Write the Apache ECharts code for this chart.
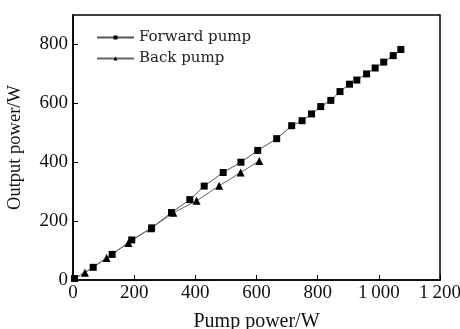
<!DOCTYPE html>
<html>
<head>
<meta charset="utf-8">
<script src="https://cdn.jsdelivr.net/npm/echarts@6/dist/echarts.min.js"></script>
<style>
  html, body { margin: 0; padding: 0; background: #fff; }
  #chart { width: 460px; height: 329px; }
</style>
</head>
<body>
<div id="chart"></div>
<script>
const forwardPump = [5, 66, 128, 192, 257, 322, 382, 429, 491, 549, 604, 666, 715, 749, 780, 810, 843, 873, 904, 928, 960, 988, 1016, 1047, 1072];
const forwardOut = [5, 43, 87, 136, 177, 229, 273, 319, 365, 400, 440, 480, 524, 541, 564, 589, 610, 640, 665, 679, 700, 720, 740, 762, 783];
const backPump = [39, 110, 181, 255, 328, 404, 478, 548, 609];
const backOut = [25, 75, 126, 176, 228, 269, 320, 365, 404];

const serif = 'Liberation Serif';
const chart = echarts.init(document.getElementById('chart'));

const toPairs = (xs, ys) => xs.map((x, i) => [x, ys[i]]);

const option = {
  animation: false,
  grid: {
    left: 73, right: 20, top: 15, bottom: 49,
    outerBoundsMode: 'none',
    containLabel: false,
    show: true, borderColor: '#000', borderWidth: 1.5
  },
  legend: {
    orient: 'vertical',
    left: 96, top: 30,
    padding: 0,
    itemWidth: 37, itemHeight: 5, itemGap: 6,
    textStyle: { fontFamily: 'DejaVu Serif', fontSize: 15, color: '#222' },
    data: ['Forward pump', 'Back pump']
  },
  xAxis: {
    type: 'value',
    min: 0, max: 1200, interval: 200,
    name: 'Pump power/W',
    nameLocation: 'middle',
    nameGap: 32,
    nameTextStyle: { fontFamily: serif, fontSize: 20, color: '#111' },
    axisLine: { lineStyle: { color: '#000', width: 1.5 } },
    axisTick: { inside: true, length: 5, lineStyle: { color: '#000' } },
    axisLabel: {
      fontFamily: serif, fontSize: 19, color: '#111', margin: 4,
      formatter: v => v >= 1000 ? String(v).replace(/^(\d)/, '$1\u2009') : String(v)
    },
    splitLine: { show: false }
  },
  yAxis: {
    type: 'value',
    min: 0, max: 900, interval: 200,
    name: 'Output power/W',
    nameLocation: 'middle',
    nameGap: 48,
    nameTextStyle: { fontFamily: serif, fontSize: 18.5, color: '#111' },
    axisLine: { lineStyle: { color: '#000', width: 1.5 } },
    axisTick: { inside: true, length: 5, lineStyle: { color: '#000' } },
    axisLabel: { fontFamily: serif, fontSize: 19, color: '#111', margin: 5, showMaxLabel: false },
    splitLine: { show: false }
  },
  series: [
    {
      name: 'Forward pump',
      type: 'line',
      data: toPairs(forwardPump, forwardOut),
      symbol: 'rect',
      symbolSize: 7,
      itemStyle: { color: '#000' },
      lineStyle: { color: '#555', width: 1 }
    },
    {
      name: 'Back pump',
      type: 'line',
      data: toPairs(backPump, backOut),
      symbol: 'triangle',
      symbolSize: 8,
      itemStyle: { color: '#000' },
      lineStyle: { color: '#666', width: 1 }
    }
  ]
};

chart.setOption(option);
</script>
</body>
</html>
